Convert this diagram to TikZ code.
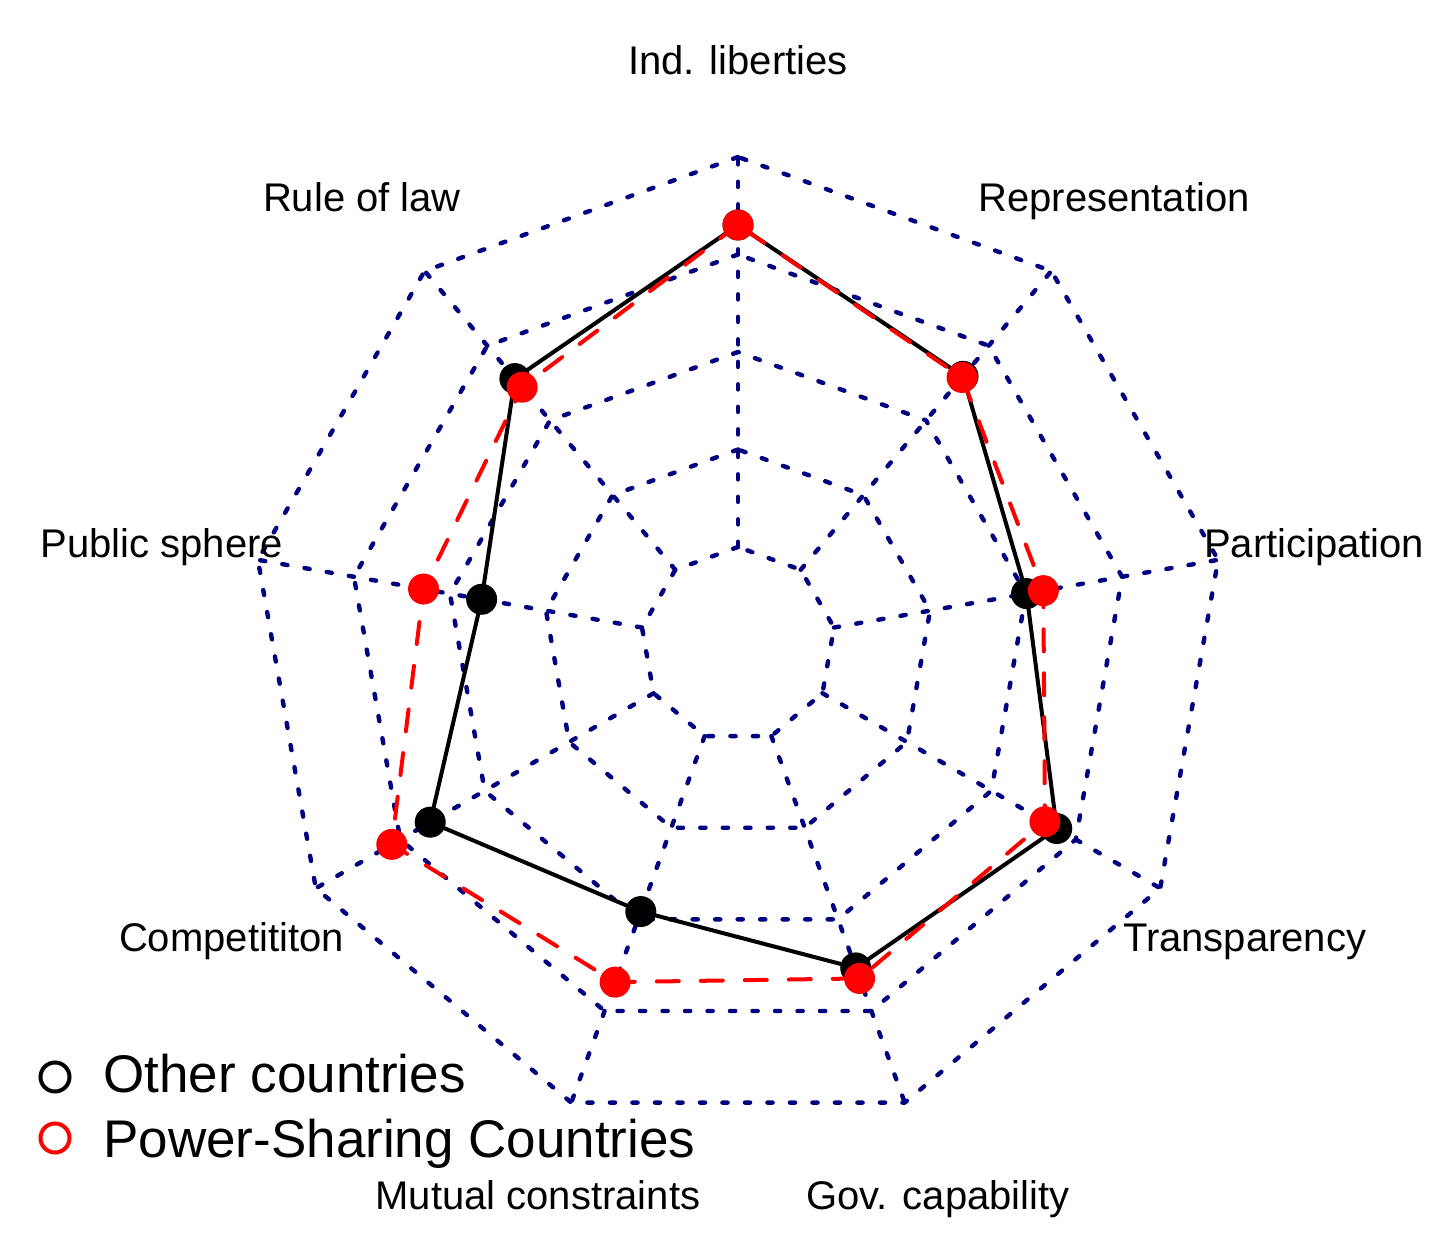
\documentclass[tikz,border=0pt]{standalone}
\usepackage{fontspec}
\setmainfont{Liberation Sans}
\definecolor{gridnavy}{HTML}{000080}
\definecolor{pred}{HTML}{FF0000}
\begin{document}
\begin{tikzpicture}[x=0.5pt,y=0.5pt,
  gridline/.style={draw=gridnavy, line width=2.2pt, line cap=round, line join=round, dash pattern=on 2.6pt off 8.65pt},
  blackpoly/.style={draw=black, line width=2pt, line join=round},
  redpoly/.style={draw=pred, line width=2pt, line cap=round, dash pattern=on 11pt off 11pt},
  bdot/.style={circle, fill=black, inner sep=0pt, minimum size=15.5pt},
  rdot/.style={circle, fill=pred, inner sep=0pt, minimum size=15.5pt},
  lab/.style={font=\fontsize{20}{24}\selectfont, inner sep=0pt, anchor=base, yshift=-7.5pt},
  legtext/.style={font=\fontsize{26.5}{31}\selectfont, inner sep=0pt, anchor=base west},
  legcirc/.style={circle, line width=2pt, inner sep=0pt, minimum size=14.5pt}]
\useasboundingbox (0,0) rectangle (1438,1240);
\begin{scope}[shift={(738,595.5)}]
  \def\R{487.5}
  % rings
  \foreach \f in {0.2,0.4,0.6,0.8,1.0} {
    \draw[gridline] (90:\f*\R) \foreach \k in {1,...,8} { -- (90+40*\k:\f*\R) } -- cycle;
  }
  % spokes
  \foreach \k in {0,...,8} {
    \draw[gridline] (90+40*\k:0.2*\R) -- (90+40*\k:\R);
  }
  % data: 0 Ind lib, 1 Rule of law, 2 Public sphere, 3 Competition, 4 Mutual, 5 Gov, 6 Transparency, 7 Participation, 8 Representation
  \foreach \k/\v in {0/0.8605,1/0.712,2/0.534,3/0.729,4/0.583,5/0.706,6/0.755,7/0.601,8/0.718} {
    \coordinate (b\k) at (90+40*\k:\v*\R);
  }
  \foreach \k/\v in {0/0.8605,1/0.689,2/0.655,3/0.820,4/0.737,5/0.729,6/0.727,7/0.636,8/0.715} {
    \coordinate (r\k) at (90+40*\k:\v*\R);
  }
  \draw[blackpoly] (b0) -- (b1) -- (b2) -- (b3) -- (b4) -- (b5) -- (b6) -- (b7) -- (b8) -- cycle;
  \foreach \k in {0,...,8} { \node[bdot] (bd\k) at (b\k) {}; }
  \draw[redpoly] (r0) -- (r1) -- (r2) -- (r3) -- (r4) -- (r5) -- (r6) -- (r7) -- (r8) -- cycle;
  \foreach \k in {0,...,8} { \node[rdot] (rd\k) at (r\k) {}; }
  % axis labels
  \node[lab] (l0) at (90:1.2*\R) {Ind. liberties};
  \node[lab] (l1) at (130:1.2*\R) {Rule of law};
  \node[lab] (l2) at (170:1.2*\R) {Public sphere};
  \node[lab] (l3) at (210:1.2*\R) {Competititon};
  \node[lab] (l4) at (250:1.2*\R) {Mutual constraints};
  \node[lab] (l5) at (290:1.2*\R) {Gov. capability};
  \node[lab] (l6) at (330:1.2*\R) {Transparency};
  \node[lab] (l7) at (10:1.2*\R) {Participation};
  \node[lab] (l8) at (50:1.2*\R) {Representation};
\end{scope}
% legend
\node[legcirc, draw=black] (lc1) at (55,163) {};
\node[legcirc, draw=pred] (lc2) at (55,102) {};
\node[legtext] (lt1) at (103,147) {Other countries};
\node[legtext] (lt2) at (103,82) {Power-Sharing Countries};
\end{tikzpicture}
\end{document}
